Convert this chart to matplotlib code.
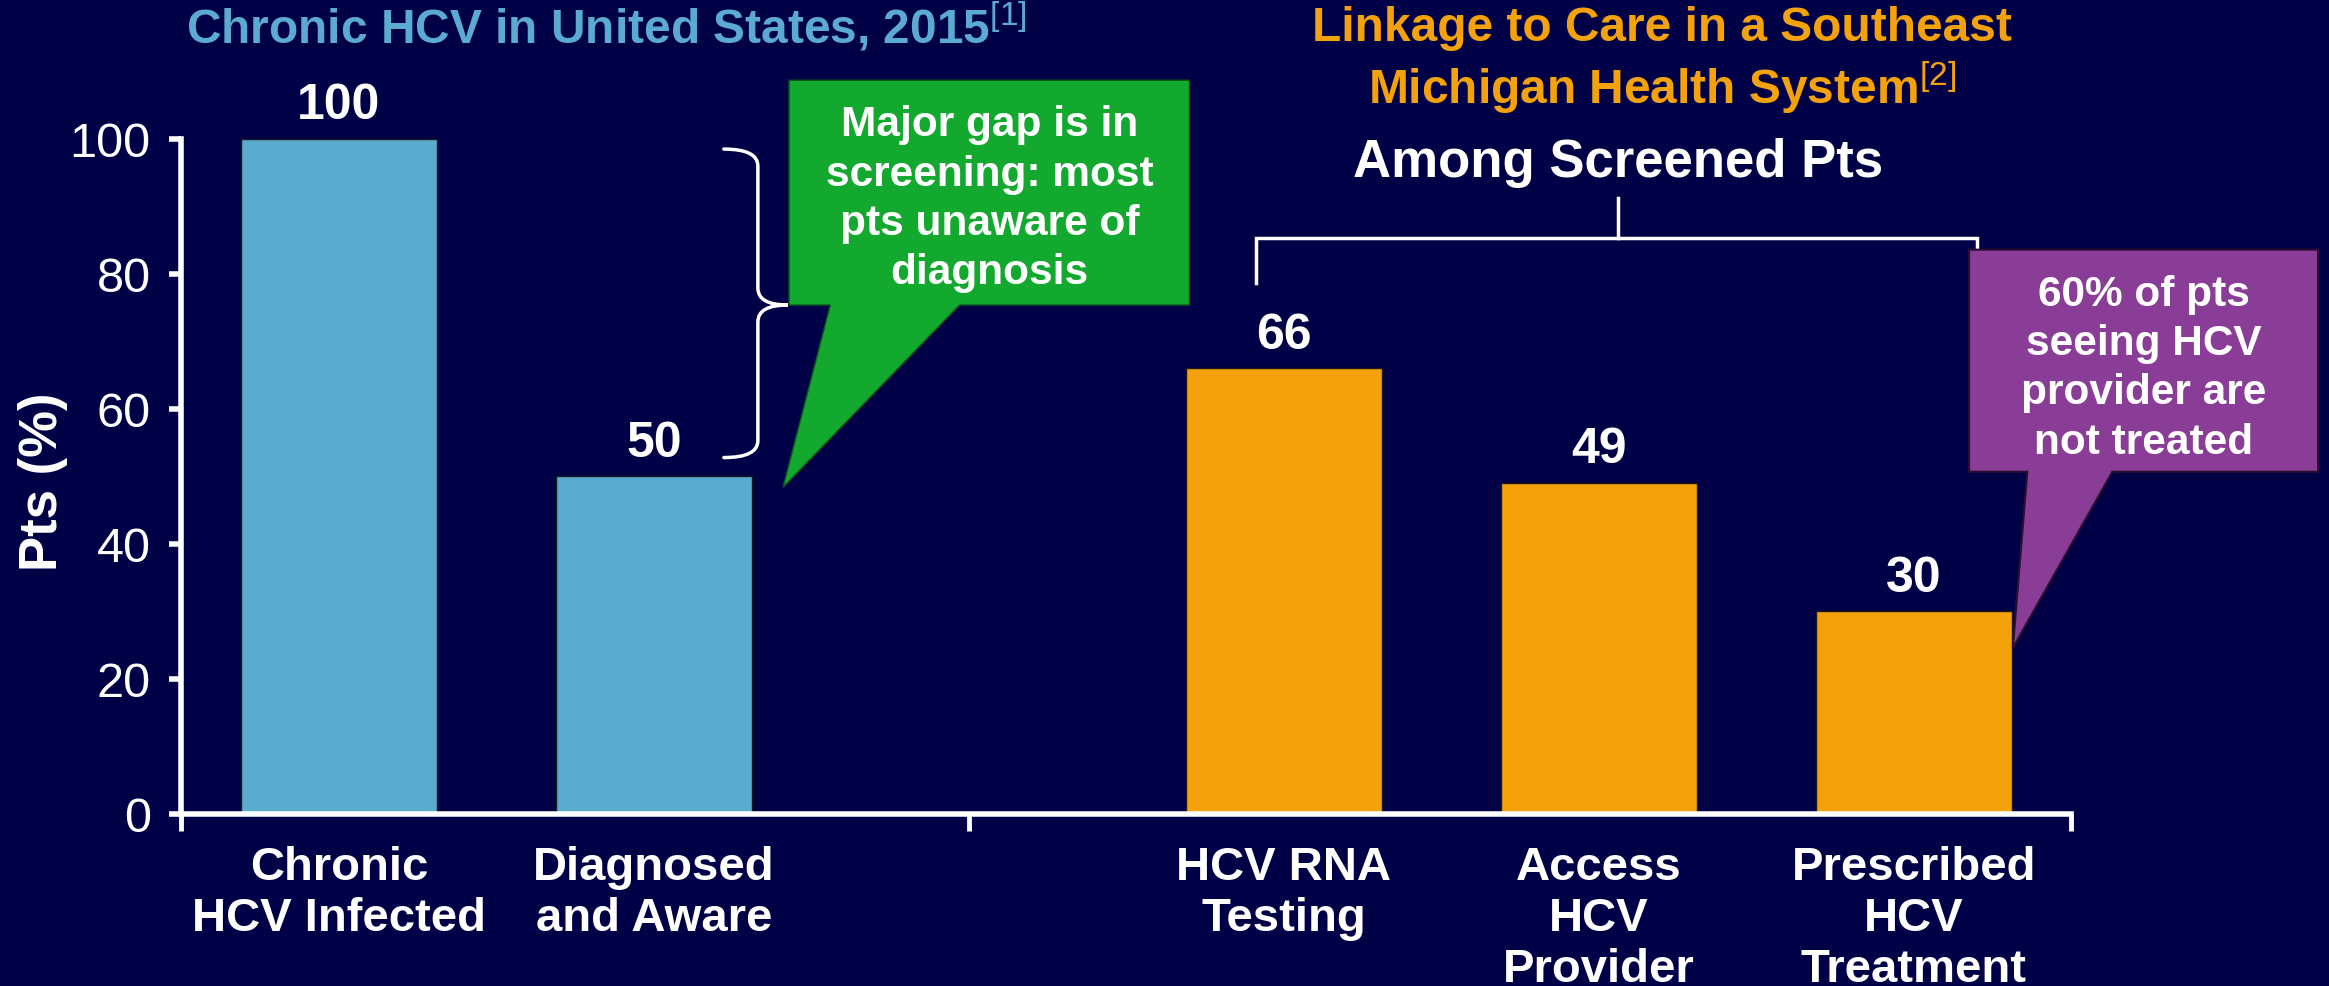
import matplotlib
matplotlib.use("Agg")
import matplotlib.pyplot as plt
from matplotlib.patches import Polygon, PathPatch
from matplotlib.path import Path

# data
categories = ["Chronic\nHCV Infected", "Diagnosed\nand Aware",
              "HCV RNA\nTesting", "Access\nHCV\nProvider", "Prescribed\nHCV\nTreatment"]
positions = [0, 1, 3, 4, 5]
values = [100, 50, 66, 49, 30]
value_labels = ["100", "50", "66", "49", "30"]
group = ["us", "us", "mi", "mi", "mi"]

BG = "#000046"
BLUE = "#5BAACF"
ORANGE = "#F4A20B"
GREEN = "#13A92E"
PURPLE = "#8A3D96"
WHITE = "white"

plt.rcParams["font.family"] = ["Liberation Sans", "DejaVu Sans"]
plt.rcParams["mathtext.fontset"] = "custom"
plt.rcParams["mathtext.rm"] = "Liberation Sans"
plt.rcParams["mathtext.bf"] = "Liberation Sans:bold"

fig = plt.figure(figsize=(23.29, 9.87), dpi=100, facecolor=BG)
ax = fig.add_axes([0.0779, 0.1743, 0.8115, 0.6839])
ax.set_facecolor(BG)

colors = [BLUE if g == "us" else ORANGE for g in group]
ax.bar(positions, values, width=0.62, color=colors, edgecolor="#1a1a1a", linewidth=1, zorder=2)

for x, v, lab in zip(positions, values, value_labels):
    ax.annotate(lab, (x, v), xytext=(0, 15), textcoords="offset points",
                ha="center", va="baseline", color=WHITE, fontsize=36, fontweight="bold")

ax.set_xlim(-0.5, 5.5)
ax.set_ylim(0, 100)

# spines
for s in ["top", "right"]:
    ax.spines[s].set_visible(False)
for s in ["left", "bottom"]:
    ax.spines[s].set_color(WHITE)
    ax.spines[s].set_linewidth(4)
    ax.spines[s].set_zorder(3)

ax.set_yticks([0, 20, 40, 60, 80, 100])
ax.tick_params(axis="y", colors=WHITE, labelsize=35, length=9, width=4, pad=13)
ax.set_xticks([-0.5, 2, 5.5])
ax.set_xticklabels([])
ax.tick_params(axis="x", which="major", colors=WHITE, length=12, width=3.5)
ax.set_xticks(positions, minor=True)
ax.set_xticklabels(categories, minor=True, fontsize=34, fontweight="bold",
                   color=WHITE, linespacing=1.22)
ax.tick_params(axis="x", which="minor", length=0, pad=22)

ax.text(-0.0733, 0.493, "Pts (%)", transform=ax.transAxes, rotation=90, ha="center",
        va="center", fontsize=38, fontweight="bold", color=WHITE)

# titles
ax.text(0.85, 116.8, "Chronic HCV in United States, 2015$^{\\mathrm{[1]}}$", ha="center",
        va="center", fontsize=34.5, fontweight="bold", color=BLUE, clip_on=False)
ax.text(4.20, 111.7, "Linkage to Care in a Southeast\nMichigan Health System$^{\\mathrm{[2]}}$",
        ha="center", va="center", fontsize=34.5, fontweight="bold", color=ORANGE,
        linespacing=1.18, clip_on=False)
ax.text(4.06, 96.6, "Among Screened Pts", ha="center", va="center", fontsize=38,
        fontweight="bold", color=WHITE, clip_on=False)

# bracket over the Michigan bars
ax.plot([2.91, 2.91, 5.20, 5.20], [78.7, 85.3, 85.3, 83.5], color=WHITE, lw=2.5,
        clip_on=False, solid_joinstyle="miter")
ax.plot([4.06, 4.06], [85.3, 91.2], color=WHITE, lw=2.5, clip_on=False)

# curly brace between 100 and 50
xh, xv, xt = 1.222, 1.33, 1.425
yt, ym, yb, r = 98.5, 75.4, 52.8, 2.5
verts = [(xh, yt), (xv, yt), (xv, yt - r),
         (xv, ym + r),
         (xv, ym), (xt, ym),
         (xv, ym), (xv, ym - r),
         (xv, yb + r),
         (xv, yb), (xh, yb)]
codes = [Path.MOVETO, Path.CURVE3, Path.CURVE3,
         Path.LINETO,
         Path.CURVE3, Path.CURVE3,
         Path.CURVE3, Path.CURVE3,
         Path.LINETO,
         Path.CURVE3, Path.CURVE3]
ax.add_patch(PathPatch(Path(verts, codes), fill=False, edgecolor=WHITE, lw=2.5,
                       clip_on=False, capstyle="round"))

# green callout
green = Polygon([(1.429, 108.7), (2.70, 108.7), (2.70, 75.4), (1.97, 75.4),
                 (1.41, 48.4), (1.56, 75.4), (1.429, 75.4)],
                closed=True, facecolor=GREEN, edgecolor="#0b5a1a", lw=1, clip_on=False, zorder=4)
ax.add_patch(green)
ax.text(2.065, 91.2, "Major gap is in\nscreening: most\npts unaware of\ndiagnosis",
        ha="center", va="center", fontsize=30.5, fontweight="bold", color=WHITE,
        linespacing=1.3, clip_on=False, zorder=5)

# purple callout
purple = Polygon([(5.175, 83.6), (6.283, 83.6), (6.283, 50.7), (5.63, 50.7),
                  (5.314, 24.6), (5.36, 50.7), (5.175, 50.7)],
                 closed=True, facecolor=PURPLE, edgecolor="#2a0f30", lw=1.5, clip_on=False, zorder=4)
ax.add_patch(purple)
ax.text(5.73, 66.1, "60% of pts\nseeing HCV\nprovider are\nnot treated",
        ha="center", va="center", fontsize=30.5, fontweight="bold", color=WHITE,
        linespacing=1.3, clip_on=False, zorder=5)

fig.savefig("out.png", dpi=100, facecolor=BG)
